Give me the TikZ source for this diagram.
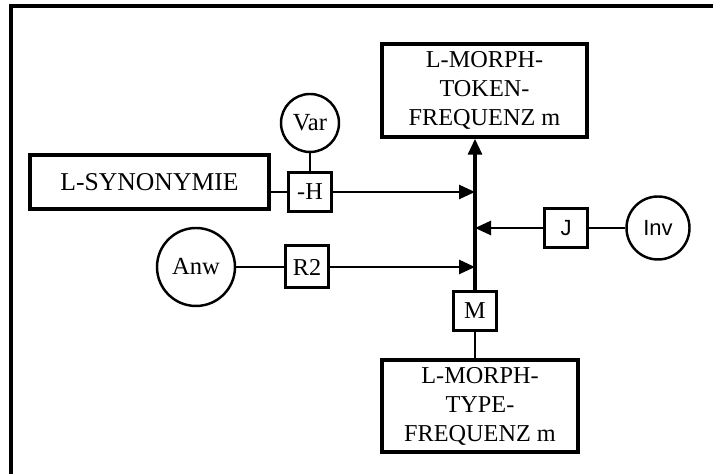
\documentclass[tikz,border=0pt]{standalone}
\usepackage{fontspec}
\setmainfont{Liberation Serif}
\setsansfont{Liberation Sans}
\usepackage{tikz}
\usetikzlibrary{arrows.meta, positioning}

\begin{document}
\begin{tikzpicture}[
    block/.style={rectangle, draw, line width=2pt, inner sep=0pt, align=center, font=\fontsize{13.8}{16.5}\selectfont},
    gate/.style={rectangle, draw, line width=1.7pt, inner sep=0pt, minimum width=0.86cm, minimum height=0.78cm, font=\fontsize{13.8}{16}\selectfont},
    param/.style={circle, draw, line width=1.4pt, inner sep=0pt, font=\fontsize{14}{16}\selectfont},
    link/.style={line width=1.2pt},
    flow/.style={-{Triangle[length=3.2mm, width=2.8mm]}, line width=1.5pt},
]

\useasboundingbox (0, 0) rectangle (14.26, 9.48);

% frame (top and left only)
\draw[line width=2pt] (0.22, 0) -- (0.22, 9.36) -- (14.26, 9.36);

% target and source blocks
\node[block, minimum width=4.1cm, minimum height=1.86cm] (token) at (9.69, 7.67) {L-MORPH-\\TOKEN-\\FREQUENZ m};
\node[block, minimum width=3.92cm, minimum height=1.84cm] (typefreq) at (9.6, 1.36) {L-MORPH-\\TYPE-\\FREQUENZ m};
\node[block, minimum width=4.78cm, minimum height=1.08cm, font=\fontsize{14.6}{16.5}\selectfont] (synonym) at (2.99, 5.84) {L-SYNONYMIE};

% operators
\node[gate] (hbox) at (6.2, 5.64) {-H};
\node[gate, minimum height=0.84cm] (rtwo) at (6.14, 4.14) {R2};
\node[gate, font=\sffamily\fontsize{12.5}{15}\selectfont] (jbox) at (11.32, 4.92) {J};
\node[gate] (mbox) at (9.5, 3.26) {M};

% parameters
\node[param, minimum size=1.16cm] (var) at (6.2, 7.02) {Var};
\node[param, minimum size=1.56cm] (anw) at (3.92, 4.14) {Anw};
\node[param, minimum size=1.26cm, font=\sffamily\fontsize{12.5}{15}\selectfont] (inv) at (13.16, 4.92) {Inv};

% === plain links ===
\draw[link] (synonym.east |- hbox) -- (hbox.west);
\draw[link] (var) -- (hbox);
\draw[link] (anw) -- (rtwo);
\draw[link] (inv) -- (jbox);
\draw[link] (mbox) -- (mbox |- typefreq.north);

% === arrows onto the spine ===
\draw[flow] (hbox.east) -- (hbox -| mbox);
\draw[flow] (rtwo.east) -- (rtwo -| mbox);
\draw[flow] (jbox.west) -- (jbox -| mbox);
\draw[flow, line width=1.8pt] (mbox.north) -- (mbox |- token.south);

\end{tikzpicture}
\end{document}
